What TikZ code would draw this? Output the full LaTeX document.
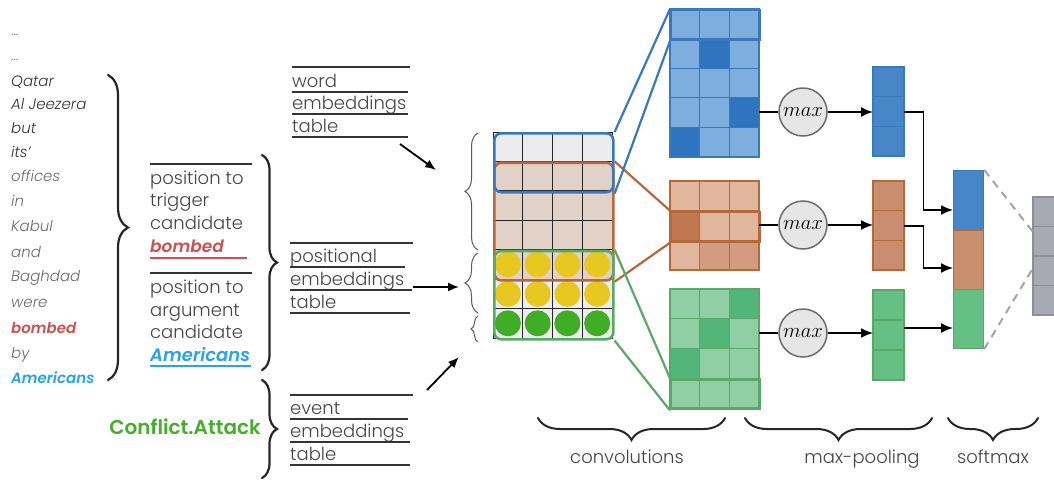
\documentclass[tikz,border=0pt]{standalone}
\usepackage{fontspec}
\setmainfont{Poppins}[UprightFont=* Light, ItalicFont=* Light Italic, BoldFont=* SemiBold, BoldItalicFont=* SemiBold Italic]
\usetikzlibrary{arrows.meta,decorations.pathreplacing}
\definecolor{tdark}{HTML}{333333}
\definecolor{tgray}{HTML}{6A6A6A}
\definecolor{lab}{HTML}{444444}
\definecolor{bred}{HTML}{C9514F}
\definecolor{ablue}{HTML}{2AA2E3}
\definecolor{cgreen}{HTML}{45AD2C}
\definecolor{gridgray}{HTML}{ECECEE}
\definecolor{gridbrown}{HTML}{E2D1C7}
\definecolor{yel}{HTML}{E8C820}
\definecolor{grn}{HTML}{3FAE26}
\definecolor{bedge}{HTML}{3A78BE}
\definecolor{redge}{HTML}{B4683C}
\definecolor{gedge}{HTML}{5BA866}
\definecolor{bl}{HTML}{7DAEDD}
\definecolor{bd}{HTML}{2F74BE}
\definecolor{bp}{HTML}{4887C7}
\definecolor{rl}{HTML}{E0B69D}
\definecolor{rm}{HTML}{D29C7E}
\definecolor{rd}{HTML}{C2784F}
\definecolor{rp}{HTML}{C98D6F}
\definecolor{gl}{HTML}{8FCFA3}
\definecolor{gd}{HTML}{52B57A}
\definecolor{gp}{HTML}{66BF84}
\definecolor{smr}{HTML}{C8906F}
\definecolor{gv}{HTML}{A7AAB2}
\definecolor{gvedge}{HTML}{8B8F97}
\definecolor{maxfill}{HTML}{E6E6E6}
\definecolor{maxedge}{HTML}{6B6B6B}
\begin{document}
\begin{tikzpicture}[x=1pt,y=-1pt,
  wd/.style={anchor=base west, inner sep=0pt, font=\fontsize{15}{15}\selectfont\itshape},
  lb/.style={anchor=base west, inner sep=0pt, text=lab, font=\fontsize{18}{18}\selectfont},
  ul/.style={draw=tdark, line width=1.1pt},
  tbrace/.style={decorate, decoration={brace, amplitude=#1}, line width=2.2pt, draw=black!85, line cap=round},
  gbrace/.style={decorate, decoration={brace, amplitude=#1}, line width=1pt, draw=black!65},
  win/.style={draw=#1, line width=2.6pt, rounded corners=7pt, inner sep=0pt, anchor=north west},
  hlrow/.style={draw=#1, line width=2.4pt, inner sep=0pt, anchor=north west},
  link/.style={draw=#1, line width=2.2pt},
  maxc/.style={circle, draw=maxedge, fill=maxfill, line width=1.5pt, minimum size=48pt, inner sep=0pt, font=\fontsize{20}{20}\selectfont},
  mbox/.style={inner sep=0pt, anchor=north west},
  arr/.style={-{Latex[length=12pt,width=10pt]}, line width=1.6pt},
  tarr/.style={-{Latex[length=11pt,width=9pt]}, line width=1.8pt},
  gline/.style={draw=black!85, line width=0.9pt},
  bcell/.style={fill=bl, draw=bedge, line width=1.2pt},
  rcell/.style={fill=rl, draw=redge, line width=1.2pt},
  gcell/.style={fill=gl, draw=gedge, line width=1.2pt},
]
\useasboundingbox (0,0) rectangle (1054,480);
% ---------------- word list
\node[wd, text=tgray, font=\fontsize{13}{13}\selectfont] (d1) at (11,35) {...};
\node[wd, text=tgray, font=\fontsize{13}{13}\selectfont] (d2) at (11,60) {...};
\node[wd, text=tdark] (w1) at (11,86) {Qatar};
\node[wd, text=tdark] (w2) at (11,109) {Al Jeezera};
\node[wd, text=tdark] (w3) at (11,133) {but};
\node[wd, text=tdark] (w4) at (11,157) {its'};
\node[wd, text=tgray] (w5) at (11,181) {offices};
\node[wd, text=tgray] (w6) at (11,206) {in};
\node[wd, text=tgray] (w7) at (11,231) {Kabul};
\node[wd, text=tgray] (w8) at (11,257) {and};
\node[wd, text=tgray] (w9) at (11,281) {Baghdad};
\node[wd, text=tgray] (w10) at (11,307) {were};
\node[wd, text=bred, font=\fontsize{15}{15}\selectfont\bfseries\itshape] (w11) at (11,333) {bombed};
\node[wd, text=tgray] (w12) at (11,358) {by};
\node[wd, text=ablue, font=\fontsize{15}{15}\selectfont\bfseries\itshape] (w13) at (11,383) {Americans};
\draw[tbrace=20pt] (108,75) -- (108,380);
% ---------------- position labels
\draw[ul] (150,164) -- (252,164);
\node[lb] (p1) at (150,184) {position to};
\node[lb] (p2) at (150,206.5) {trigger};
\node[lb] (p3) at (150,229) {candidate};
\node[lb, text=bred, font=\fontsize{17}{17}\selectfont\bfseries\itshape] (p4) at (150,252) {bombed};
\draw[draw=bred, line width=2pt] (150,257.5) -- (247,257.5);
\draw[ul] (150,273) -- (252,273);
\node[lb] (q1) at (150,293) {position to};
\node[lb] (q2) at (150,316) {argument};
\node[lb] (q3) at (150,338) {candidate};
\node[lb, text=ablue, font=\fontsize{18}{18}\selectfont\bfseries\itshape] (q4) at (150,361) {Americans};
\draw[draw=ablue, line width=2pt] (150,365.5) -- (251,365.5);
\draw[tbrace=15pt] (262,155) -- (262,370);
% ---------------- event type
\node[anchor=base east, inner sep=0pt, text=cgreen, font=\fontsize{20}{20}\selectfont\bfseries] (ev) at (261,434) {Conflict.Attack};
\draw[tbrace=15pt] (262,380) -- (262,478);
% ---------------- table labels
\draw[ul] (292,67) -- (410,67);
\node[lb] (t1) at (292,87) {word};
\draw[ul] (292,92) -- (408,92);
\node[lb] (t2) at (292,109) {embeddings};
\draw[ul] (292,114) -- (408,114);
\node[lb] (t3) at (292,132) {table};
\draw[ul] (292,137) -- (408,137);
\draw[ul] (290,243) -- (413,243);
\node[lb] (u1) at (290,262) {positional};
\draw[ul] (290,267) -- (405,267);
\node[lb] (u2) at (290,285) {embeddings};
\draw[ul] (290,290) -- (412,290);
\node[lb] (u3) at (290,308) {table};
\draw[ul] (290,313) -- (410,313);
\draw[ul] (290,395) -- (413,395);
\node[lb] (v1) at (290,414) {event};
\draw[ul] (290,419) -- (408,419);
\node[lb] (v2) at (290,437) {embeddings};
\draw[ul] (290,442) -- (410,442);
\node[lb] (v3) at (290,460) {table};
\draw[ul] (290,465) -- (410,465);
\coordinate (a1s) at (400,144); \coordinate (a1e) at (436,170);
\coordinate (a2s) at (413,287); \coordinate (a2e) at (459,287);
\coordinate (a3s) at (427,390); \coordinate (a3e) at (459,357);
\draw[tarr] (a1s) -- (a1e);
\draw[tarr] (a2s) -- (a2e);
\draw[tarr] (a3s) -- (a3e);
% ---------------- input matrix
\fill[gridgray] (493,132) rectangle (612,161.4);
\fill[gridbrown] (493,161.4) rectangle (612,279.1);
\fill[gridgray] (493,279.1) rectangle (612,338);
\foreach \c in {0,...,3}{
  \fill[yel] (507.9+29.75*\c,264.4) circle[radius=13pt];
  \fill[yel] (507.9+29.75*\c,293.9) circle[radius=13pt];
  \fill[grn] (507.9+29.75*\c,323.3) circle[radius=13pt];
}
\foreach \k in {1,...,6}{\draw[gline] (493,132+29.43*\k) -- (612,132+29.43*\k);}
\foreach \c in {1,2,3}{\draw[gline] (493+29.75*\c,132) -- (493+29.75*\c,338);}
\draw[gline] (493,132) rectangle (612,338);
\draw[gbrace=13pt] (478,250) -- (478,133);
\draw[gbrace=13pt] (478,313) -- (478,253);
\draw[gbrace=7pt] (478,342) -- (478,316);
\node[win=redge, minimum width=119pt, minimum height=117.7pt] (rwin) at (493,161.4) {};
\node[win=bedge, minimum width=119pt, minimum height=58.9pt] (bwin) at (493,132) {};
\node[win=gedge, minimum width=119pt, minimum height=88.3pt] (gwin) at (493,249.7) {};
% ---------------- blue feature map
\node[mbox, minimum width=89pt, minimum height=148pt] (bmap) at (670,9) {};
\foreach \r in {0,...,4}{\foreach \c in {0,1,2}{\draw[bcell] (670+29.67*\c,9+29.6*\r) rectangle ++(29.67,29.6);}}
\draw[bcell, fill=bd] (699.67,38.6) rectangle ++(29.67,29.6);
\draw[bcell, fill=bd] (729.34,97.8) rectangle ++(29.67,29.6);
\draw[bcell, fill=bd] (670,127.4) rectangle ++(29.67,29.6);
\node[hlrow=bedge, minimum width=89pt, minimum height=29.6pt] (bhl) at (670,9) {};
% ---------------- brown feature map
\node[mbox, minimum width=89pt, minimum height=89pt] (rmap) at (670,181) {};
\foreach \r in {0,1,2}{\foreach \c in {0,1,2}{\draw[rcell] (670+29.67*\c,181+29.67*\r) rectangle ++(29.67,29.67);}}
\draw[rcell, fill=rd] (670,210.67) rectangle ++(29.67,29.67);
\draw[rcell, fill=rm] (699.67,240.34) rectangle ++(29.67,29.67);
\draw[rcell, fill=rm] (729.34,240.34) rectangle ++(29.67,29.67);
\node[hlrow=redge, minimum width=89pt, minimum height=29.67pt] (rhl) at (670,210.67) {};
% ---------------- green feature map
\node[mbox, minimum width=89pt, minimum height=119pt] (gmap) at (670,289) {};
\foreach \r in {0,...,3}{\foreach \c in {0,1,2}{\draw[gcell] (670+29.67*\c,289+29.75*\r) rectangle ++(29.67,29.75);}}
\draw[gcell, fill=gd] (729.34,289) rectangle ++(29.67,29.75);
\draw[gcell, fill=gd] (699.67,318.75) rectangle ++(29.67,29.75);
\draw[gcell, fill=gd] (670,348.5) rectangle ++(29.67,29.75);
\node[hlrow=gedge, minimum width=89pt, minimum height=29.75pt] (ghl) at (670,378.25) {};
% ---------------- window-to-map links
\draw[link=redge] (rwin.north east) -- (rhl.north west);
\draw[link=redge] (rwin.south east) -- (rhl.south west);
\draw[link=bedge] (bwin.north east) -- (bhl.north west);
\draw[link=bedge] (bwin.south east) -- (bhl.south west);
\draw[link=gedge] (gwin.north east) -- (ghl.north west);
\draw[link=gedge] (gwin.south east) -- (ghl.south west);
% ---------------- max pooling
\node[maxc] (bmax) at (803,112) {$max$};
\node[maxc] (rmax) at (803,225) {$max$};
\node[maxc] (gmax) at (803,333) {$max$};
\node[mbox, minimum width=31pt, minimum height=89pt] (bpool) at (873,67) {};
\node[mbox, minimum width=31pt, minimum height=89pt] (rpool) at (873,181) {};
\node[mbox, minimum width=31pt, minimum height=90pt] (gpool) at (873,290) {};
\foreach \r in {0,1,2}{
  \draw[fill=bp, draw=bedge, line width=1.2pt] (873,67+29.67*\r) rectangle ++(31,29.67);
  \draw[fill=rp, draw=redge, line width=1.2pt] (873,181+29.67*\r) rectangle ++(31,29.67);
  \draw[fill=gp, draw=gedge, line width=1.2pt] (873,290+30*\r) rectangle ++(31,30);
}
\draw[line width=1.6pt] (bmap.east |- bmax) -- (bmax);
\draw[line width=1.6pt] (rmap.east |- rmax) -- (rmax);
\draw[line width=1.6pt] (gmap.east |- gmax) -- (gmax);
\draw[arr] (bmax) -- (bpool.west |- bmax);
\draw[arr] (rmax) -- (rpool.west |- rmax);
\draw[arr] (gmax) -- (gpool.west |- gmax);
% ---------------- softmax
\node[mbox, minimum width=30pt, minimum height=59.3pt, fill=bp, draw=bedge, line width=1.2pt] (sb) at (953,170) {};
\node[mbox, minimum width=30pt, minimum height=59.3pt, fill=smr, draw=redge, line width=1.2pt] (sr) at (953,229.3) {};
\node[mbox, minimum width=30pt, minimum height=59.3pt, fill=gp, draw=gedge, line width=1.2pt] (sg) at (953,288.6) {};
\coordinate (sbin) at (953,210);
\coordinate (srin) at (953,268);
\coordinate (sgin) at (953,328);
\draw[arr] (bpool.east) -- ++(19,0) |- (sbin);
\draw[arr] (rpool.east) -- ++(19,0) |- (srin);
\draw[arr] (gpool.east |- sgin) -- (sgin);
% ---------------- output vector
\node[mbox, minimum width=30pt, minimum height=118pt] (gvec) at (1033,197) {};
\foreach \r in {0,...,3}{\draw[fill=gv, draw=gvedge, line width=1.4pt] (1033,197+29.5*\r) rectangle ++(30,29.5);}
\coordinate (gvt) at (1033,232);
\coordinate (gvb) at (1033,268);
\draw[draw=gvedge!80, line width=2pt, dash pattern=on 8pt off 6pt] (sb.north east) -- (gvt);
\draw[draw=gvedge!80, line width=2pt, dash pattern=on 8pt off 6pt] (sg.south east) -- (gvb);
% ---------------- bottom braces
\draw[tbrace=22pt, line width=2pt] (725,418) -- (538,418);
\draw[tbrace=22pt, line width=2pt] (932,418) -- (745,418);
\draw[tbrace=22pt, line width=2pt] (1038,418) -- (948,418);
\node[anchor=base, inner sep=0pt, text=lab, font=\fontsize{18}{18}\selectfont] (l1) at (627,463) {convolutions};
\node[anchor=base, inner sep=0pt, text=lab, font=\fontsize{18}{18}\selectfont] (l2) at (862,463) {max-pooling};
\node[anchor=base, inner sep=0pt, text=lab, font=\fontsize{18}{18}\selectfont] (l3) at (993,463) {softmax};
\end{tikzpicture}
\end{document}
